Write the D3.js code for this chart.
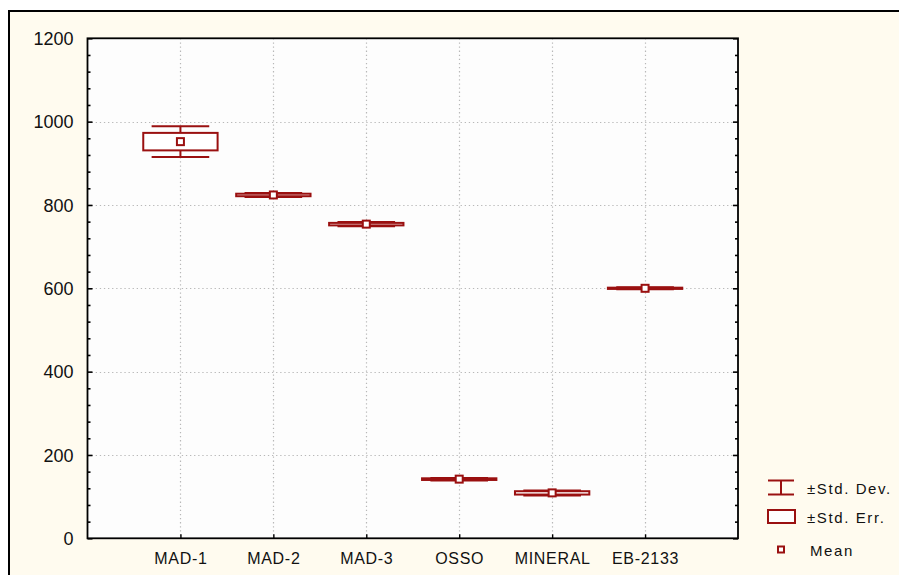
<!DOCTYPE html>
<html>
<head>
<meta charset="utf-8">
<script src="https://cdn.jsdelivr.net/npm/d3@7"></script>
<style>
  html, body { margin: 0; padding: 0; background: #ffffff; }
  svg { display: block; font-family: Arial, "Liberation Sans", sans-serif; }
</style>
</head>
<body>
<svg id="chart" width="899" height="575"></svg>
<script>
// Group statistics: mean with ± standard error and ± standard deviation
const categories = ["MAD-1", "MAD-2", "MAD-3", "OSSO", "MINERAL", "EB-2133"];
const means      = [952, 824, 754, 142, 109, 600];
const stdErr     = [21, 3, 3, 2, 4, 1.5];
const stdDev     = [37, 5, 5, 3, 6, 2.5];
const yTicks     = [0, 200, 400, 600, 800, 1000, 1200];
const legendLabels = ["\u00b1Std. Dev.", "\u00b1Std. Err.", "Mean"];

const RED = "#9a1010";
const svg = d3.select("#chart");

// outer panel
svg.append("rect").attr("x", 9).attr("y", 11).attr("width", 905).attr("height", 580)
  .attr("fill", "#fffbef").attr("stroke", "#000").attr("stroke-width", 2);

const plot = { left: 87.5, right: 738, top: 38.3, bottom: 538.3 };

const x = d3.scaleLinear().domain([0, categories.length + 1]).range([plot.left, plot.right]);
const y = d3.scaleLinear().domain([0, 1200]).range([plot.bottom, plot.top]);
const slot = x(1) - x(0);

// plot background
svg.append("rect").attr("x", plot.left).attr("y", plot.top)
  .attr("width", plot.right - plot.left).attr("height", plot.bottom - plot.top)
  .attr("fill", "#fdfdfd");

// dotted grid
const grid = svg.append("g").attr("stroke", "#b8b8b8").attr("stroke-width", 1.2)
  .attr("stroke-dasharray", "1.3,2.8");
grid.selectAll("line.h").data(yTicks.filter(t => t > 0 && t < 1200)).join("line")
  .attr("x1", plot.left).attr("x2", plot.right)
  .attr("y1", d => Math.round(y(d)) + 0.5).attr("y2", d => Math.round(y(d)) + 0.5);
grid.selectAll("line.v").data(categories).join("line")
  .attr("y1", plot.top).attr("y2", plot.bottom)
  .attr("x1", (d, i) => Math.round(x(i + 1)) + 0.5).attr("x2", (d, i) => Math.round(x(i + 1)) + 0.5);

// axes with inward ticks (major every 200, minor every 40)
const minor = d3.range(0, 1201, 40).filter(v => v % 200 !== 0);
const leftAxis = d3.axisLeft(y).tickValues(yTicks).tickSize(-5).tickFormat(d3.format("d")).tickPadding(14);
const gl = svg.append("g").attr("transform", `translate(${plot.left},0)`).call(leftAxis);
gl.select(".domain").remove();
gl.selectAll("text").attr("font-size", 18).attr("fill", "#111").attr("dy", "0.35em");
gl.selectAll(".tick line").attr("stroke", "#000").attr("stroke-width", 1.6);
const glMinor = svg.append("g").attr("transform", `translate(${plot.left},0)`)
  .call(d3.axisLeft(y).tickValues(minor).tickSize(-3).tickFormat(""));
glMinor.select(".domain").remove();
glMinor.selectAll(".tick line").attr("stroke", "#000").attr("stroke-width", 1.6);

const gr = svg.append("g").attr("transform", `translate(${plot.right},0)`)
  .call(d3.axisRight(y).tickValues(yTicks).tickSize(-5).tickFormat(""));
gr.select(".domain").remove();
gr.selectAll(".tick line").attr("stroke", "#000").attr("stroke-width", 1.6);
const grMinor = svg.append("g").attr("transform", `translate(${plot.right},0)`)
  .call(d3.axisRight(y).tickValues(minor).tickSize(-3).tickFormat(""));
grMinor.select(".domain").remove();
grMinor.selectAll(".tick line").attr("stroke", "#000").attr("stroke-width", 1.6);

const bottomAxis = d3.axisBottom(x).tickValues(d3.range(1, categories.length + 1))
  .tickSize(-4).tickPadding(14).tickFormat(i => categories[i - 1]);
const gb = svg.append("g").attr("transform", `translate(0,${plot.bottom})`).call(bottomAxis);
gb.select(".domain").remove();
gb.selectAll(".tick line").attr("stroke", "#000").attr("stroke-width", 1.4);
gb.selectAll("text").attr("font-size", 16).attr("fill", "#111").attr("letter-spacing", "0.7px");

// frame of the plot area
svg.append("rect").attr("x", plot.left).attr("y", plot.top)
  .attr("width", plot.right - plot.left).attr("height", plot.bottom - plot.top)
  .attr("fill", "none").attr("stroke", "#000").attr("stroke-width", 1.8);

// box-whisker marks
const boxW = slot * 0.8, capW = slot * 0.62;
const marks = svg.append("g").attr("stroke", RED).attr("stroke-width", 2).attr("fill", "none");
categories.forEach((c, i) => {
  const cx = x(i + 1);
  const g = marks.append("g");
  // whisker stems
  g.append("line").attr("x1", cx).attr("x2", cx)
    .attr("y1", y(means[i] + stdDev[i])).attr("y2", y(means[i] + stdErr[i]));
  g.append("line").attr("x1", cx).attr("x2", cx)
    .attr("y1", y(means[i] - stdErr[i])).attr("y2", y(means[i] - stdDev[i]));
  // caps
  [means[i] + stdDev[i], means[i] - stdDev[i]].forEach(v => {
    g.append("line").attr("x1", cx - capW / 2).attr("x2", cx + capW / 2)
      .attr("y1", y(v)).attr("y2", y(v));
  });
  // standard error box
  g.append("rect").attr("x", cx - boxW / 2).attr("width", boxW)
    .attr("y", y(means[i] + stdErr[i]))
    .attr("height", y(means[i] - stdErr[i]) - y(means[i] + stdErr[i]))
    .attr("fill", "#ffffff");
  // mean marker
  g.append("rect").attr("x", cx - 3.5).attr("y", y(means[i]) - 3.5)
    .attr("width", 7).attr("height", 7).attr("fill", "#ffffff");
});

// legend
const lg = svg.append("g");
const lx = 768;
// std dev icon
lg.append("line").attr("x1", lx).attr("x2", lx + 26).attr("y1", 480.5).attr("y2", 480.5).attr("stroke", RED).attr("stroke-width", 2);
lg.append("line").attr("x1", lx).attr("x2", lx + 26).attr("y1", 494.5).attr("y2", 494.5).attr("stroke", RED).attr("stroke-width", 2);
lg.append("line").attr("x1", lx + 13).attr("x2", lx + 13).attr("y1", 480.5).attr("y2", 494.5).attr("stroke", RED).attr("stroke-width", 2);
// std err icon
lg.append("rect").attr("x", lx).attr("y", 510).attr("width", 27).attr("height", 13)
  .attr("fill", "#fff").attr("stroke", RED).attr("stroke-width", 2);
// mean icon
lg.append("rect").attr("x", lx + 10).attr("y", 546.5).attr("width", 6).attr("height", 6)
  .attr("fill", "#fff").attr("stroke", RED).attr("stroke-width", 2);
const legendY = [494, 523, 556];
const legendX = [807, 807, 810];
lg.selectAll("text").data(legendLabels).join("text")
  .attr("x", (d, i) => legendX[i]).attr("y", (d, i) => legendY[i])
  .attr("font-size", 15).attr("letter-spacing", "1.6px").attr("fill", "#111")
  .text(d => d);
</script>
</body>
</html>
